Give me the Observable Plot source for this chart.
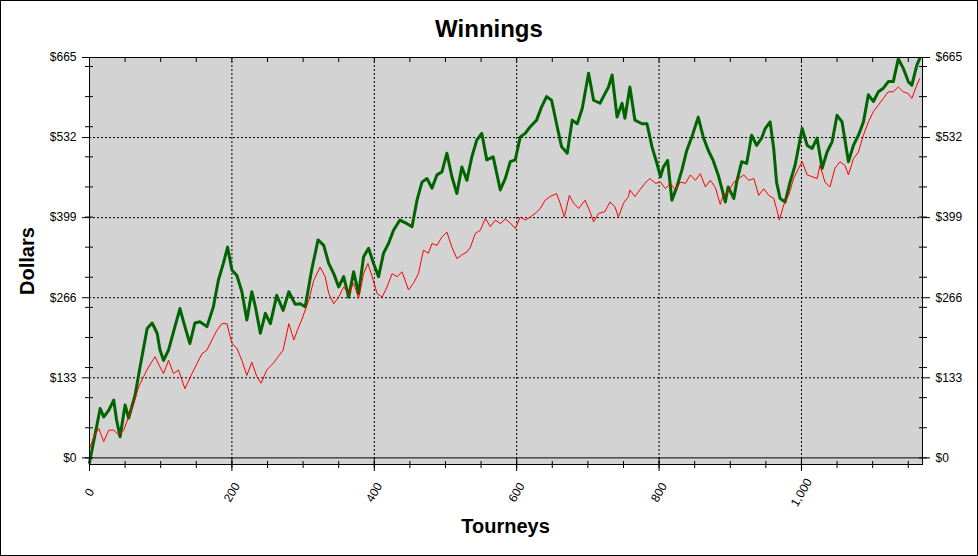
<!DOCTYPE html>
<html><head><meta charset="utf-8">
<script src="https://cdn.jsdelivr.net/npm/d3@7"></script>
<script src="https://cdn.jsdelivr.net/npm/@observablehq/plot@0.6"></script>
<style>
html,body{margin:0;padding:0;background:#fff;}
#wrap{position:relative;width:978px;height:556px;overflow:hidden;background:#fff;}
#chart{position:absolute;left:0;top:0;}
#border{position:absolute;left:0;top:0;width:976px;height:554px;border:1px solid #000;pointer-events:none;}
.t{position:absolute;font-family:"Liberation Sans",Arial,sans-serif;font-weight:bold;color:#000;white-space:nowrap;text-align:center;}
#title{left:0;width:978px;top:17px;font-size:24px;line-height:24px;}
#xlab{left:89px;width:833px;top:516px;font-size:20px;line-height:20px;}
#ylab{left:-73px;width:200px;top:251px;font-size:20px;line-height:20px;transform:rotate(-90deg);transform-origin:100px 10px;}
</style></head><body>
<div id="wrap">
<div id="chart"></div>
<div class="t" id="title">Winnings</div>
<div class="t" id="ylab">Dollars</div>
<div class="t" id="xlab">Tourneys</div>
<div id="border"></div>
</div>
<script>
// Tick values
const yTicks = [0, 133, 266, 399, 532, 665];
const yGrid = [133, 266, 399, 532];
const yMinor = [0, 50, 100, 150, 200, 250, 300, 350, 400, 450, 500, 550, 600, 650];
const xTicks = [0, 200, 400, 600, 800, 1000];
const xGrid = [200, 400, 600, 800, 1000];
const xMinor = [0, 50, 100, 150, 200, 250, 300, 350, 400, 450, 500, 550, 600, 650, 700, 750, 800, 850, 900, 950, 1000, 1050, 1100, 1150];

// Green series (tourney number, dollars)
const greenTourney = [0,15,20,27,34,38,43,50,55,64,71,81,88,95,99,104,111,120,127,134,141,148,155,165,174,181,188,194,200,207,214,221,228,233,240,247,254,263,272,280,289,296,303,312,321,329,336,343,350,357,364,371,378,385,392,399,406,413,420,427,436,446,453,460,467,474,481,488,495,502,509,516,523,530,537,544,551,558,567,577,584,591,598,605,612,619,628,635,642,649,656,663,671,678,685,692,701,708,717,724,729,734,741,748,752,759,766,776,783,790,797,802,806,812,818,825,832,839,846,855,862,869,876,883,888,893,897,905,909,916,923,930,937,944,949,956,961,965,970,977,984,991,1001,1008,1015,1022,1029,1036,1043,1050,1057,1066,1073,1080,1087,1094,1101,1108,1115,1122,1129,1136,1143,1150,1155,1162,1166];
const greenDollars = [-8,82,68,79,96,63,35,88,66,104,151,215,224,207,179,162,179,218,248,218,190,224,226,218,251,295,323,350,312,303,276,229,276,251,207,240,223,270,245,276,255,256,251,312,362,353,323,306,284,301,267,309,273,334,348,323,301,340,356,378,395,389,384,428,458,464,448,470,475,506,467,439,483,461,500,528,539,495,500,445,464,492,495,533,539,550,561,583,600,594,555,517,506,561,555,580,639,594,589,605,616,636,566,589,564,616,561,555,555,517,489,467,483,494,428,450,478,511,533,566,533,511,494,470,448,425,450,431,458,492,489,536,519,531,547,558,514,458,431,425,458,486,547,519,514,531,481,508,525,569,558,492,519,536,558,603,592,608,614,625,625,663,647,625,619,652,663];

// Red series (tourney number, dollars)
const redTourney = [0,6,13,20,27,34,41,48,55,62,69,76,83,92,99,104,111,118,125,134,144,151,158,165,172,179,186,193,200,207,214,221,228,235,241,249,258,265,272,280,287,294,298,308,315,324,331,336,343,350,357,364,371,378,385,391,397,404,411,418,425,432,439,448,455,462,469,476,481,488,495,502,509,516,523,530,535,542,549,556,563,570,577,584,591,598,605,612,619,626,633,640,647,656,661,667,674,680,687,696,703,708,715,724,731,738,743,750,757,759,766,773,780,787,795,802,809,816,823,830,837,844,851,858,865,872,879,886,890,897,905,912,919,926,933,940,947,954,961,965,969,975,982,989,996,1001,1008,1015,1022,1026,1033,1040,1047,1054,1061,1066,1073,1080,1087,1094,1101,1108,1115,1122,1129,1136,1143,1150,1155,1162,1166];
const redDollars = [15,35,49,27,46,46,38,46,68,90,118,135,151,168,151,140,162,140,146,115,140,157,173,179,196,212,223,223,190,182,162,137,159,135,124,146,157,168,179,223,196,218,229,262,295,317,301,273,256,267,284,273,290,265,306,323,301,273,267,284,306,301,309,279,290,306,345,340,356,353,367,375,350,331,337,342,350,373,378,398,384,395,389,397,390,381,400,395,400,406,414,428,434,439,423,400,436,423,414,428,409,392,406,409,425,417,400,423,434,445,434,445,456,464,456,458,447,456,445,458,456,470,461,472,450,461,449,421,436,442,458,464,470,461,464,436,447,436,431,414,395,420,436,464,481,492,470,467,464,486,458,450,481,492,486,470,497,508,536,558,575,586,597,608,608,616,608,605,597,619,630];

const green = greenTourney.map((t, i) => ({t, v: greenDollars[i]}));
const red = redTourney.map((t, i) => ({t, v: redDollars[i]}));

const money = d => "$" + d;
const blank = () => "";
const grid = {stroke: "#000", strokeOpacity: 1, strokeDasharray: "2,2"};

const chart = Plot.plot({
  width: 978,
  height: 556,
  marginLeft: 89,
  marginRight: 56,
  marginTop: 57,
  marginBottom: 92,
  style: {fontFamily: "'Liberation Sans', Arial, sans-serif", fontSize: "12px", color: "#000", background: "transparent"},
  x: {domain: [0, 1170], label: null},
  y: {domain: [-11, 665], label: null},
  marks: [
    Plot.frame({fill: "#d3d3d3", stroke: null}),
    Plot.gridY(yGrid, grid),
    Plot.gridX(xGrid, grid),
    Plot.ruleY([0], {stroke: "#000"}),
    Plot.line(green, {x: "t", y: "v", stroke: "#006400", strokeWidth: 3}),
    Plot.line(red, {x: "t", y: "v", stroke: "#ff0000", strokeWidth: 1}),
    Plot.frame({stroke: "#000"}),
    Plot.axisY(yTicks, {anchor: "left", tickSize: 7, tickPadding: 6, tickFormat: money, label: null}),
    Plot.axisY(yTicks, {anchor: "right", tickSize: 7, tickPadding: 6, tickFormat: money, label: null}),
    Plot.axisY(yMinor, {anchor: "left", tickSize: 8, dx: 4, tickFormat: blank, label: null}),
    Plot.axisY(yMinor, {anchor: "right", tickSize: 8, dx: -4, tickFormat: blank, label: null}),
    Plot.axisX(xTicks, {anchor: "bottom", tickSize: 14, dy: -7, tickFormat: blank, label: null}),
    Plot.axisX(xMinor, {anchor: "bottom", tickSize: 7, dy: -3, tickFormat: blank, label: null}),
    Plot.axisX(xMinor, {anchor: "top", tickSize: 4, dy: 4, tickFormat: blank, label: null}),
    Plot.axisX(xTicks, {anchor: "bottom", tickSize: 0, tickPadding: 28, tickRotate: -60, textAnchor: "middle", lineAnchor: "middle", tickFormat: d3.format(","), label: null})
  ]
});
document.getElementById("chart").appendChild(chart);
</script>
</body></html>
